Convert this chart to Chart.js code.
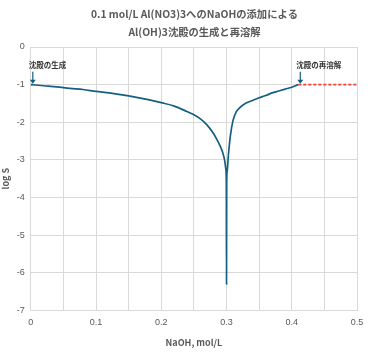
<!DOCTYPE html>
<html>
<head>
<meta charset="utf-8">
<script src="https://cdn.jsdelivr.net/npm/chart.js@4.4.1/dist/chart.umd.min.js"></script>
<style>
    html, body { margin: 0; padding: 0; background: #fff; }
    #wrap { width: 389px; height: 354px; }
</style>
</head>
<body>
<div id="wrap"><canvas id="alChart"></canvas></div>
<script>
// NaOH added (mol/L) and log of dissolved Al
const naohConc = [0, 0.02, 0.04, 0.06, 0.08, 0.10, 0.12, 0.14, 0.16, 0.18, 0.20, 0.22, 0.24, 0.25,
    0.26, 0.27, 0.28, 0.285, 0.29, 0.294, 0.297, 0.299, 0.2997, 0.3, 0.3003, 0.301, 0.303, 0.306,
    0.31, 0.315, 0.32, 0.33, 0.34, 0.35, 0.36, 0.37, 0.38, 0.39, 0.40, 0.41];
const logS = [-1.00, -1.03, -1.06, -1.10, -1.13, -1.18, -1.22, -1.27, -1.33, -1.40, -1.48, -1.57, -1.72, -1.80,
    -1.91, -2.07, -2.30, -2.45, -2.62, -2.80, -3.00, -3.25, -3.60, -6.30, -3.60, -3.30, -2.85, -2.35,
    -1.95, -1.72, -1.62, -1.49, -1.42, -1.35, -1.29, -1.22, -1.17, -1.12, -1.07, -1.00];
// no precipitate: all Al stays dissolved (0.1 mol/L)
const dissolvedX = [0, 0.003, 0.2, 0.41, 0.5];
const dissolvedY = [-1, -1, null, -1, -1];
const xTicks = [0, 0.1, 0.2, 0.3, 0.4, 0.5];
const titleLines = ['0.1 mol/L Al(NO3)3へのNaOHの添加による', 'Al(OH)3沈殿の生成と再溶解'];
const notes = [
    { text: '沈殿の生成', x: 0, y: -1 },
    { text: '沈殿の再溶解', x: 0.41, y: -1 },
];

const blue = '#156082';
const gray = '#595959';
const gridGray = '#d9d9d9';
const jp = '"Noto Sans CJK JP", "Noto Sans", sans-serif';

const notePlugin = {
    id: 'notes',
    afterDatasetsDraw(chart) {
        const ctx = chart.ctx;
        const xs = chart.scales.x;
        const ys = chart.scales.y;
        ctx.save();
        notes.forEach(n => {
            const px = xs.getPixelForValue(n.x) + 2;
            const py = ys.getPixelForValue(n.y);
            ctx.strokeStyle = blue;
            ctx.fillStyle = blue;
            ctx.lineWidth = 1.2;
            ctx.beginPath();
            ctx.moveTo(px, py - 13);
            ctx.lineTo(px, py - 4);
            ctx.stroke();
            ctx.beginPath();
            ctx.moveTo(px - 3, py - 5);
            ctx.lineTo(px + 3, py - 5);
            ctx.lineTo(px, py - 1);
            ctx.closePath();
            ctx.fill();
            ctx.fillStyle = '#333';
            ctx.font = 'bold 7.5px ' + jp;
            ctx.textAlign = 'left';
            ctx.textBaseline = 'middle';
            ctx.fillText(n.text, px - 4, py - 19);
        });
        // title centred on the whole canvas
        ctx.fillStyle = gray;
        ctx.font = 'bold 10.3px ' + jp;
        ctx.textAlign = 'center';
        ctx.textBaseline = 'middle';
        titleLines.forEach((t, i) => ctx.fillText(t, chart.width / 2, 14 + i * 18));
        ctx.restore();
    }
};

const ctx = document.getElementById('alChart').getContext('2d');
const alChart = new Chart(ctx, {
    type: 'scatter',
    data: {
        datasets: [{
            label: 'log S',
            data: naohConc.map((x, i) => ({ x: x, y: logS[i] })),
            showLine: true,
            borderColor: blue,
            borderWidth: 1.7,
            pointRadius: 0,
            cubicInterpolationMode: 'monotone',
            order: 1,
        }, {
            label: 'total',
            data: dissolvedX.map((x, i) => ({ x: x, y: dissolvedY[i] })),
            showLine: true,
            spanGaps: false,
            borderColor: '#ff3b3b',
            borderWidth: 1.8,
            borderDash: [3, 2],
            pointRadius: 0,
            order: 2,
        }],
    },
    options: {
        responsive: true,
        maintainAspectRatio: false,
        animation: false,
        layout: {
            padding: { left: 0, right: 32, top: 47, bottom: 2 },
        },
        plugins: {
            legend: { display: false },
            tooltip: { enabled: false },
            title: { display: false },
        },
        scales: {
            x: {
                type: 'linear',
                min: 0,
                max: 0.5,
                ticks: {
                    stepSize: 0.05,
                    color: gray,
                    font: { size: 9 },
                    maxRotation: 0,
                    autoSkip: false,
                    padding: 7,
                    callback: v => {
                        const hit = xTicks.find(t => Math.abs(t - v) < 1e-6);
                        return hit === undefined ? '' : String(hit);
                    },
                },
                grid: { color: gridGray, lineWidth: 1, drawTicks: false },
                border: { color: gridGray },
                title: {
                    display: true,
                    text: 'NaOH, mol/L',
                    color: gray,
                    font: { family: jp, size: 9, weight: 'bold' },
                    padding: { top: 2 },
                },
            },
            y: {
                min: -7,
                max: 0,
                ticks: { stepSize: 1, color: gray, font: { size: 9 }, padding: 6 },
                grid: { color: gridGray, drawTicks: false },
                border: { color: gridGray },
                title: {
                    display: true,
                    text: 'log S',
                    color: gray,
                    font: { family: jp, size: 9, weight: 'bold' },
                    padding: { top: 0, bottom: 0 },
                },
            },
        },
    },
    plugins: [notePlugin],
});
</script>
</body>
</html>
